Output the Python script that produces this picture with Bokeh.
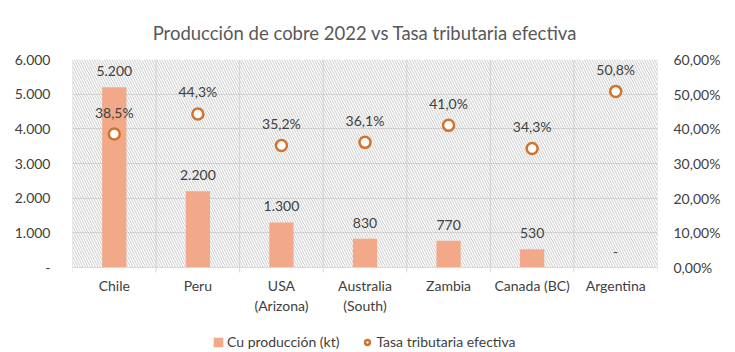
from bokeh.plotting import figure
from bokeh.models import (FactorRange, Range1d, LinearAxis, FixedTicker,
                          BoxAnnotation, Legend, LegendItem, ColumnDataSource)
from bokeh.core.properties import value
from bokeh.embed import file_html
from bokeh.resources import INLINE

categories = ["Chile", "Peru", "USA\n(Arizona)", "Australia\n(South)", "Zambia", "Canada (BC)", "Argentina"]
produccion_kt = [5200, 2200, 1300, 830, 770, 530, 0]
tasa_pct = [38.5, 44.3, 35.2, 36.1, 41.0, 34.3, 50.8]
left_ticks = [0, 1000, 2000, 3000, 4000, 5000, 6000]
right_ticks = [0, 10, 20, 30, 40, 50, 60]

FONT = "Lato"
TXT = "#404040"
BAR = "#F1A98A"
ORANGE = "#D2722B"
GRID = "#D9D9D9"

# layout (pixels)
W, H = 735, 352
TOP, LEFT, RIGHT = 59, 72, 78
PLOT_H = 208            # height of the 0..6000 area
BELOW = H - TOP - PLOT_H  # room under the axis for labels + legend

ymax = left_ticks[-1]
ymin = -ymax * BELOW / PLOT_H
pmax = right_ticks[-1]
pmin = -pmax * BELOW / PLOT_H
tick_len = 5 * ymax / PLOT_H


def miles(v):
    return "-" if v == 0 else f"{v:,}".replace(",", ".")


def pct1(v):
    return f"{v:.1f}".replace(".", ",") + "%"


def pct2(v):
    return f"{v:.2f}".replace(".", ",") + "%"


src = ColumnDataSource(dict(
    cat=categories, prod=produccion_kt, tasa=tasa_pct,
    prod_lbl=[miles(v) for v in produccion_kt],
    tasa_lbl=[pct1(v) for v in tasa_pct],
))

p = figure(width=W, height=H, x_range=FactorRange(*categories),
           y_range=Range1d(ymin, ymax), output_backend="svg", toolbar_location=None,
           min_border_left=LEFT, min_border_right=RIGHT, min_border_top=TOP, min_border_bottom=0)
p.outline_line_color = None
p.background_fill_color = "white"
p.border_fill_color = "white"

p.title.text = "Producción de cobre 2022 vs Tasa tributaria efectiva"
p.title.text_font = FONT
p.title.text_font_size = "18.5px"
p.title.text_font_style = "normal"
p.title.text_color = "#595959"
p.title.align = "center"
p.title.standoff = 31

# hatched plot area
p.add_layout(BoxAnnotation(bottom=0, top=ymax, fill_alpha=0, line_alpha=0, hatch_pattern="\\",
                           hatch_color="#BDBDBD", hatch_scale=5, hatch_weight=0.8, level="underlay"))

# grids
p.xgrid.visible = False
p.ygrid.grid_line_color = GRID
p.ygrid.ticker = FixedTicker(ticks=left_ticks)
bounds = list(range(len(categories) + 1))
p.segment(x0=bounds, y0=[0] * len(bounds), x1=bounds, y1=[ymax] * len(bounds),
          line_color=GRID, line_width=1, level="underlay")
p.segment(x0=bounds, y0=[0] * len(bounds), x1=bounds, y1=[-tick_len] * len(bounds),
          line_color=GRID, line_width=1)

# left axis
ya = p.yaxis[0]
ya.ticker = FixedTicker(ticks=left_ticks)
ya.major_label_overrides = {t: miles(t) for t in left_ticks}
ya.axis_line_color = None
ya.major_tick_line_color = None
ya.minor_tick_line_color = None
ya.major_label_standoff = 16
ya.major_label_text_font = FONT
ya.major_label_text_font_size = "14px"
ya.major_label_text_color = TXT

# right axis
p.extra_y_ranges = {"pct": Range1d(pmin, pmax)}
ra = LinearAxis(y_range_name="pct", ticker=FixedTicker(ticks=right_ticks))
ra.major_label_overrides = {t: pct2(t) for t in right_ticks}
ra.axis_line_color = None
ra.major_tick_line_color = None
ra.minor_tick_line_color = None
ra.major_label_standoff = 10
ra.major_label_text_font = FONT
ra.major_label_text_font_size = "14px"
ra.major_label_text_color = TXT
p.add_layout(ra, "right")

# x axis, pinned at 0 inside the frame
xa = p.xaxis[0]
xa.fixed_location = 0
xa.axis_line_color = GRID
xa.major_tick_line_color = None
xa.major_tick_out = 0
xa.major_label_standoff = 9
xa.major_label_text_font = FONT
xa.major_label_text_font_size = "14px"
xa.major_label_text_color = TXT

bars = p.vbar(x="cat", top="prod", width=0.29, source=src, fill_color=BAR, line_color=None)
pts = p.scatter(x="cat", y="tasa", y_range_name="pct", source=src, marker="circle", size=11,
                fill_color="white", line_color=ORANGE, line_width=2.5)

p.text(x="cat", y="prod", text="prod_lbl", source=src, text_align="center", text_baseline="middle",
       y_offset=-16, text_font=value(FONT), text_font_size="14px", text_color=TXT)
p.text(x="cat", y="tasa", text="tasa_lbl", source=src, y_range_name="pct", text_align="center",
       text_baseline="middle", y_offset=-22, text_font=value(FONT), text_font_size="14px", text_color=TXT)

legend = Legend(items=[LegendItem(label="Cu producción (kt)", renderers=[bars]),
                       LegendItem(label="Tasa tributaria efectiva", renderers=[pts])],
                orientation="horizontal", location=(140, 2), border_line_color=None,
                background_fill_alpha=0, label_text_font=FONT, label_text_font_size="14px",
                label_text_color=TXT, glyph_width=12, glyph_height=12, spacing=22,
                label_standoff=3, padding=0, margin=0)
p.add_layout(legend, "center")

open("out.html", "w").write(file_html(p, INLINE))
